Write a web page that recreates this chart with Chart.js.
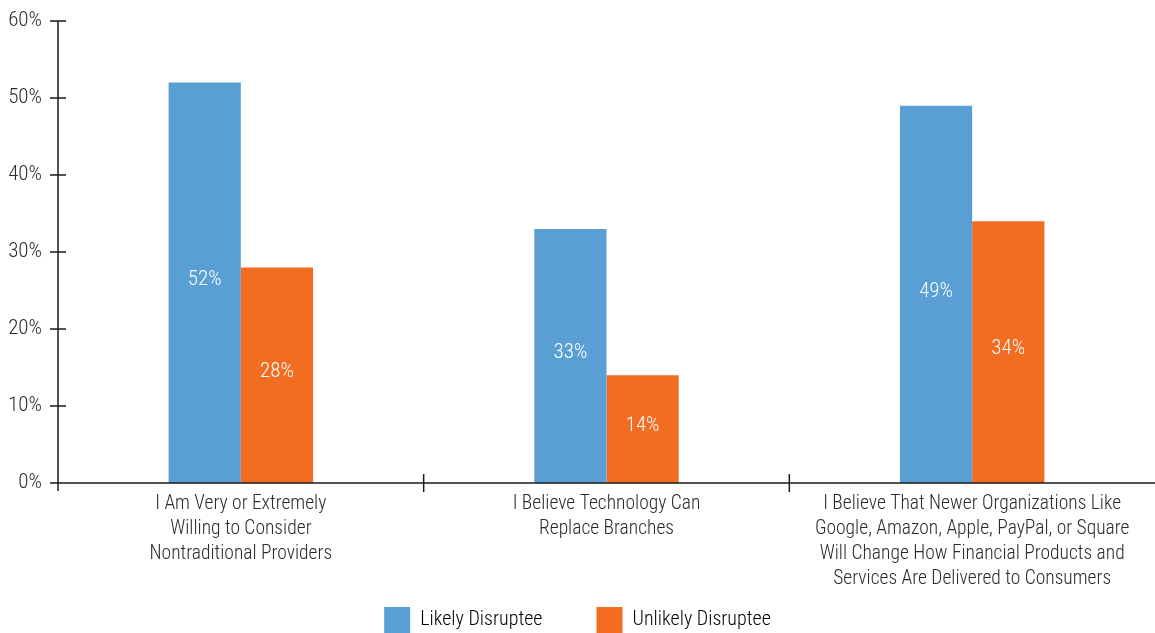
<!DOCTYPE html>
<html>
  <head>
    <title>Disruptee attitudes</title>
    <script src="https://cdn.jsdelivr.net/npm/chart.js"></script>
    <style>
      html,
      body {
        margin: 0;
        padding: 0;
        background: #ffffff;
      }

      .chart-container {
        width: 1155px;
        height: 633px;
      }
    </style>
  </head>
  <body>
    <div class="chart-container">
      <canvas id="myChart"></canvas>
    </div>

    <script>
      const categories = [
        ["I Am Very or Extremely", "Willing to Consider", "Nontraditional Providers"],
        ["I Believe Technology Can", "Replace Branches"],
        [
          "I Believe That Newer Organizations Like",
          "Google, Amazon, Apple, PayPal, or Square",
          "Will Change How Financial Products and",
          "Services Are Delivered to Consumers",
        ],
      ];
      const likelyValues = [52, 33, 49];
      const unlikelyValues = [28, 14, 34];
      const yTicks = [0, 10, 20, 30, 40, 50, 60];

      const FONT = "'Roboto Condensed', 'Liberation Sans Narrow', 'DejaVu Sans Condensed', sans-serif";
      const TEXT = "#2b2b2b";
      const LEGEND_GAP = 54;

      // axis lines with ticks crossing the line, like the print version
      const axisMarks = {
        id: "axisMarks",
        afterDraw(chart) {
          const { ctx } = chart;
          const x = chart.scales.x;
          const y = chart.scales.y;
          ctx.save();
          ctx.strokeStyle = "#1a1a1a";
          ctx.lineWidth = 1.5;
          ctx.beginPath();
          ctx.moveTo(x.left, y.top);
          ctx.lineTo(x.left, y.bottom + 8);
          yTicks.forEach((v) => {
            const py = y.getPixelForValue(v);
            ctx.moveTo(x.left - 8, py);
            ctx.lineTo(x.left + 8, py);
          });
          const base = y.getPixelForValue(0);
          ctx.moveTo(x.left, base);
          ctx.lineTo(x.right, base);
          for (let i = 1; i < categories.length; i++) {
            const px = x.getPixelForValue(i - 0.5);
            ctx.moveTo(px, base - 9);
            ctx.lineTo(px, base + 9);
          }
          ctx.stroke();
          ctx.restore();
        },
      };

      // percentage written in the middle of each bar
      const barValues = {
        id: "barValues",
        afterDatasetsDraw(chart) {
          const { ctx } = chart;
          ctx.save();
          ctx.fillStyle = "#ffffff";
          ctx.font = "300 21px " + FONT;
          ctx.textAlign = "center";
          ctx.textBaseline = "middle";
          chart.data.datasets.forEach((ds, di) => {
            chart.getDatasetMeta(di).data.forEach((bar, i) => {
              ctx.fillText(ds.data[i] + "%", bar.x, (bar.y + bar.base) / 2 - 3);
            });
          });
          ctx.restore();
        },
      };

      // legend padding doubles as the vertical offset, so open the box upward
      const legendLift = {
        id: "legendLift",
        afterLayout(chart) {
          chart.legend.top -= LEGEND_GAP;
        },
      };

      const ctx = document.getElementById("myChart").getContext("2d");
      new Chart(ctx, {
        type: "bar",
        data: {
          labels: categories,
          datasets: [
            {
              label: "Likely Disruptee",
              data: likelyValues,
              backgroundColor: "#5a9fd4",
              categoryPercentage: 0.395,
              barPercentage: 1,
            },
            {
              label: "Unlikely Disruptee",
              data: unlikelyValues,
              backgroundColor: "#f26d21",
              categoryPercentage: 0.395,
              barPercentage: 1,
            },
          ],
        },
        options: {
          responsive: true,
          maintainAspectRatio: false,
          animation: false,
          layout: { padding: { top: 21, right: 0, left: 0, bottom: 0 } },
          plugins: {
            tooltip: { enabled: false },
            legend: {
              position: "bottom",
              maxHeight: 26,
              labels: {
                boxWidth: 26,
                boxHeight: 26,
                padding: LEGEND_GAP,
                color: TEXT,
                font: { family: FONT, size: 20, weight: "300" },
                generateLabels(chart) {
                  return chart.data.datasets.map((ds, i) => ({
                    text: ds.label,
                    fillStyle: ds.backgroundColor,
                    strokeStyle: ds.backgroundColor,
                    lineWidth: 0,
                    datasetIndex: i,
                  }));
                },
              },
            },
          },
          scales: {
            x: {
              grid: { display: false },
              border: { display: false },
              ticks: {
                color: TEXT,
                padding: 1,
                font: { family: FONT, size: 19.5, weight: "300", lineHeight: 1.28 },
                maxRotation: 0,
                autoSkip: false,
              },
              afterFit(scale) {
                scale.height = 124;
              },
            },
            y: {
              min: 0,
              max: 60,
              grid: { display: false, drawTicks: false },
              border: { display: false },
              ticks: {
                stepSize: 10,
                padding: 16,
                color: TEXT,
                font: { family: FONT, size: 21, weight: "300" },
                callback: (v) => v + "%",
              },
              afterFit(scale) {
                scale.width = 58;
                scale.paddingTop = 0;
                scale.paddingBottom = 0;
              },
            },
          },
        },
        plugins: [axisMarks, barValues, legendLift],
      });
    </script>
  </body>
</html>
